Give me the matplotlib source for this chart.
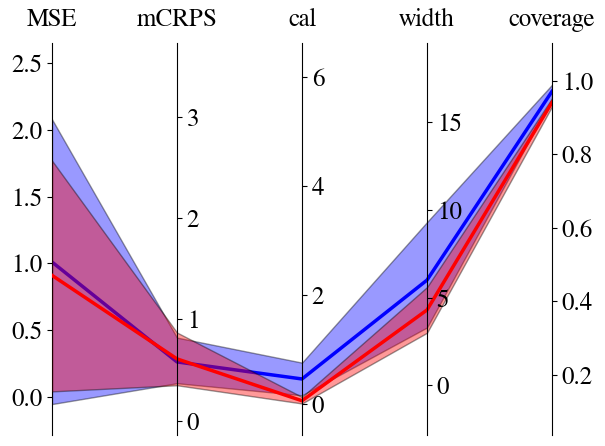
import numpy as np
import matplotlib
matplotlib.use('Agg')
import matplotlib.pyplot as plt

plt.rcParams['font.family'] = ['FreeSerif', 'DejaVu Serif']
plt.rcParams['font.size'] = 18

metrics = ['MSE', 'mCRPS', 'cal', 'width', 'coverage']

# per-axis limits
lims = [(-0.287, 2.652), (-0.141, 3.727), (-0.569, 6.63), (-2.82, 19.5), (0.037, 1.1025)]
ticks = [[0.0, 0.5, 1.0, 1.5, 2.0, 2.5], [0, 1, 2, 3], [0, 2, 4, 6], [0, 5, 10, 15],
         [0.2, 0.4, 0.6, 0.8, 1.0]]

blue_mid = [1.01, 0.58, 0.46, 6.0, 0.971]
blue_lo = [-0.055, 0.37, 0.16, 3.3, 0.95]
blue_hi = [2.08, 0.82, 0.76, 9.3, 0.989]

red_mid = [0.91, 0.61, 0.06, 4.3, 0.941]
red_lo = [0.04, 0.35, 0.01, 3.0, 0.93]
red_hi = [1.77, 0.87, 0.13, 5.6, 0.952]

n = len(metrics)
hlo, hhi = lims[0]

def to_host(vals):
    out = []
    for i, v in enumerate(vals):
        lo, hi = lims[i]
        out.append((v - lo) / (hi - lo) * (hhi - hlo) + hlo)
    return np.array(out)

fig = plt.figure(figsize=(6.05, 4.46), dpi=100)
host = fig.add_axes([52/605, 11/446, 500/605, 392/446])
host.set_xlim(0, n-1)
host.set_ylim(hlo, hhi)
host.set_yticks(ticks[0])
for s in ['top', 'bottom', 'right']:
    host.spines[s].set_visible(False)
host.xaxis.tick_top()
host.set_xticks(range(n))
host.set_xticklabels(metrics)
host.tick_params(axis='x', length=0, pad=8)

for i in range(1, n):
    ax = host.twinx()
    ax.set_ylim(*lims[i])
    ax.set_yticks(ticks[i])
    for s in ['top', 'bottom', 'left']:
        ax.spines[s].set_visible(False)
    ax.spines['right'].set_position(('axes', i/(n-1)))

x = np.arange(n)
host.fill_between(x, to_host(blue_lo), to_host(blue_hi), color='blue', alpha=0.4, edgecolor='k', lw=1, zorder=1)
host.plot(x, to_host(blue_mid), color='blue', lw=2.5, zorder=2)
host.fill_between(x, to_host(red_lo), to_host(red_hi), color='red', alpha=0.4, edgecolor='k', lw=1, zorder=3)
host.plot(x, to_host(red_mid), color='red', lw=2.5, zorder=4)

fig.savefig('out.png', dpi=100)
